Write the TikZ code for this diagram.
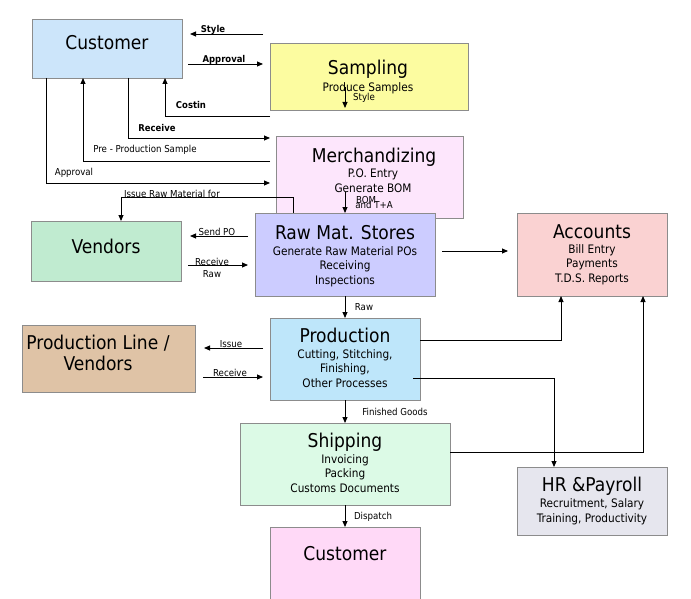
\documentclass[tikz,border=0pt]{standalone}
\usepackage{fontspec}
\setmainfont{DejaVu Sans Condensed}
\usetikzlibrary{arrows.meta}
\definecolor{cCust}{RGB}{204,229,250}
\definecolor{cSamp}{RGB}{252,252,160}
\definecolor{cMerch}{RGB}{253,230,252}
\definecolor{cRaw}{RGB}{204,204,255}
\definecolor{cVend}{RGB}{192,235,208}
\definecolor{cPLine}{RGB}{223,195,166}
\definecolor{cProd}{RGB}{190,230,250}
\definecolor{cAcc}{RGB}{250,210,210}
\definecolor{cShip}{RGB}{220,250,230}
\definecolor{cHR}{RGB}{230,230,238}
\definecolor{cCust2}{RGB}{255,217,247}
\tikzset{
 box/.style={draw=black!45, line width=0.8pt, inner sep=0pt, outer sep=0pt},
 ttl/.style={font=\fontsize{19}{21}\selectfont, inner sep=0pt, anchor=base, text=black},
 sub/.style={font=\fontsize{11.7}{14.5}\selectfont, align=center, inner sep=0pt, anchor=north, text=black},
 lbl/.style={font=\fontsize{9.6}{11}\selectfont, inner sep=0pt, text=black},
 blbl/.style={font=\bfseries\fontsize{9.4}{11}\selectfont, inner sep=0pt, text=black},
 arr/.style={-{Triangle[length=6pt,width=5pt]}, line width=0.9pt},
 ln/.style={line width=0.9pt}
}
\begin{document}
\begin{tikzpicture}[x=1pt,y=-1pt]
\useasboundingbox (0,0) rectangle (691,599);
% boxes
\node[box, fill=cCust, minimum width=150pt, minimum height=59pt] (cust) at (107,48.5) {};
\node[box, fill=cSamp, minimum width=198pt, minimum height=67pt] (samp) at (369,76.5) {};
\node[box, fill=cMerch, minimum width=187pt, minimum height=82pt] (merch) at (369.5,177) {};
\node[box, fill=cRaw, minimum width=180pt, minimum height=83pt] (raw) at (345,254.5) {};
\node[box, fill=cVend, minimum width=150pt, minimum height=60pt] (vend) at (106,251) {};
\node[box, fill=cPLine, minimum width=173pt, minimum height=67pt] (pline) at (108.5,358.5) {};
\node[box, fill=cProd, minimum width=150pt, minimum height=82pt] (prod) at (345,359) {};
\node[box, fill=cAcc, minimum width=150pt, minimum height=83pt] (acc) at (592,254.5) {};
\node[box, fill=cShip, minimum width=210pt, minimum height=82pt] (ship) at (345,464) {};
\node[box, fill=cHR, minimum width=150pt, minimum height=68pt] (hr) at (592,501) {};
\node[box, fill=cCust2, minimum width=150pt, minimum height=80pt] (cust2) at (345,567) {};
% titles
\node[ttl] (custT) at (107,50) {Customer};
\node[ttl] (sampT) at (368,75) {Sampling};
\node[sub] (sampS) at (368,82) {Produce Samples};
\node[ttl] (merchT) at (374,163) {Merchandizing};
\node[sub, font=\fontsize{11.7}{15}\selectfont] (merchS) at (373,169) {P.O. Entry\\Generate BOM};
\node[ttl] (rawT) at (345,239) {Raw Mat. Stores};
\node[sub] (rawS) at (345,246) {Generate Raw Material POs\\Receiving\\Inspections};
\node[ttl] (accT) at (592,238) {Accounts};
\node[sub] (accS) at (592,244) {Bill Entry\\Payments\\T.D.S. Reports};
\node[ttl] (vendT) at (106,253) {Vendors};
\node[ttl, anchor=north, align=center, font=\fontsize{19}{21}\selectfont] (plineT) at (98,334.5) {Production Line /\\Vendors};
\node[ttl] (prodT) at (345,342) {Production};
\node[sub] (prodS) at (345,349) {Cutting, Stitching,\\Finishing,\\Other Processes};
\node[ttl] (shipT) at (345,447) {Shipping};
\node[sub] (shipS) at (345,454) {Invoicing\\Packing\\Customs Documents};
\node[ttl] (hrT) at (592,491) {HR \&Payroll};
\node[sub, font=\fontsize{11.7}{15}\selectfont] (hrS) at (592,498) {Recruitment, Salary\\Training, Productivity};
\node[ttl] (cust2T) at (345,560) {Customer};
% free ends
\coordinate (styA) at (263,34); \coordinate (styB) at (190,34);
\coordinate (appA) at (188,64); \coordinate (appB) at (263,64);
\coordinate (cosA) at (270,116);
\coordinate (recB) at (270,138);
\coordinate (ppsA) at (270,161);
\coordinate (ap2B) at (270,183);
\coordinate (smA) at (345,87); \coordinate (smB) at (345,108);
\coordinate (mrA) at (345,192);
\coordinate (spoA) at (248,236); \coordinate (spoB) at (190,236);
\coordinate (rrA) at (188,265); \coordinate (rrB) at (248,265);
\coordinate (raA) at (442,251); \coordinate (raB) at (508,251);
\coordinate (isA) at (263,348); \coordinate (isB) at (204,348);
\coordinate (rcA) at (203,377); \coordinate (rcB) at (263,377);
\coordinate (phA) at (413,378);
% connectors
\draw[arr] (styA) -- (styB);
\draw[arr] (appA) -- (appB);
\draw[arr] (cosA) -| ([xshift=58pt]cust.south);
\draw[arr] ([xshift=21pt]cust.south) |- (recB);
\draw[arr] (ppsA) -| ([xshift=-24pt]cust.south);
\draw[arr] ([xshift=-61pt]cust.south) |- (ap2B);
\draw[arr] (smA) -- (smB);
\draw[arr] (mrA) -- (raw.north);
\draw[arr] ([xshift=-52pt]raw.north) -- ++(0,-16) -| ([xshift=15pt]vend.north);
\draw[arr] (spoA) -- (spoB);
\draw[arr] (rrA) -- (rrB);
\draw[arr] (raA) -- (raB);
\draw[arr] (raw.south) -- (prod.north);
\draw[arr] (isA) -- (isB);
\draw[arr] (rcA) -- (rcB);
\draw[arr] ([yshift=19pt]prod.east) -| ([xshift=-31pt]acc.south);
\draw[arr] (phA) -| ([xshift=-38pt]hr.north);
\draw[arr] ([yshift=12pt]ship.east) -| ([xshift=51pt]acc.south);
\draw[arr] (prod.south) -- (ship.north);
\draw[arr] (ship.south) -- (cust2.north);
% labels
\node[blbl] (lSty) at (213,30) {Style};
\node[blbl] (lApp) at (224,60) {Approval};
\node[blbl] (lCos) at (191,105) {Costin};
\node[blbl] (lRec) at (157,128) {Receive};
\node[lbl] (lPps) at (145,150) {Pre - Production Sample};
\node[lbl] (lAp2) at (74,173) {Approval};
\node[lbl] (lSty2) at (364,98) {Style};
\node[lbl] (lBom) at (366,200) {BOM};
\node[lbl] (lTA) at (374,205) {and T+A};
\node[lbl] (lIrm) at (172,194) {Issue Raw Material for};
\node[lbl] (lSpo) at (217,232) {Send PO};
\node[lbl, align=center, font=\fontsize{9.6}{12}\selectfont] (lRr) at (212,268) {Receive\\Raw};
\node[lbl] (lRaw) at (364,307) {Raw};
\node[lbl] (lIss) at (231,344) {Issue};
\node[lbl] (lRc) at (230,373) {Receive};
\node[lbl] (lFg) at (395,412) {Finished Goods};
\node[lbl] (lDis) at (373,517) {Dispatch};
\end{tikzpicture}
\end{document}
